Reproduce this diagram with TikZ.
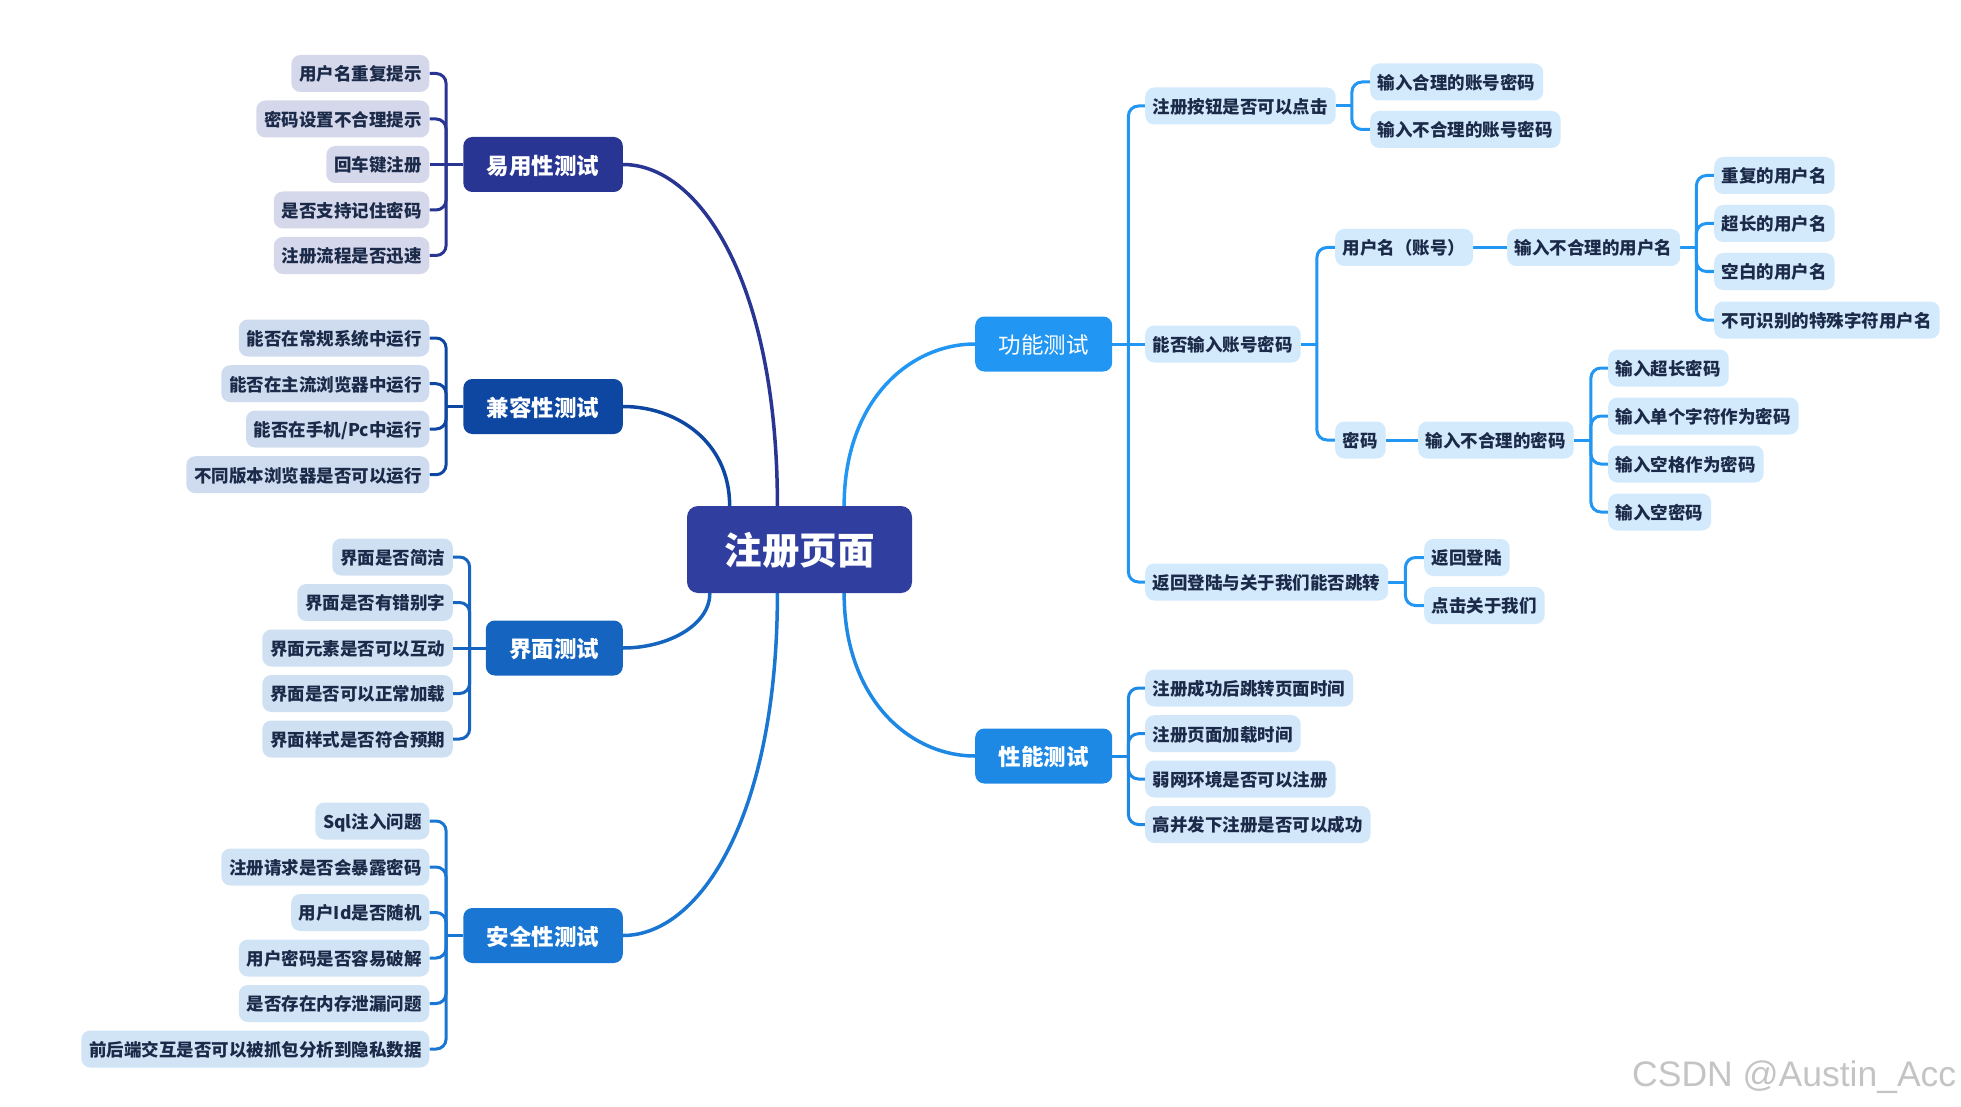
\documentclass[tikz,border=0pt]{standalone}
\usepackage{fontspec}
\setmainfont{Noto Sans CJK SC}
\newfontfamily\wmfont{Liberation Sans}
\usetikzlibrary{calc,backgrounds}
\definecolor{rootc}{HTML}{303F9F}
\definecolor{cA}{HTML}{283593}
\definecolor{cB}{HTML}{0D47A1}
\definecolor{cC}{HTML}{1565C0}
\definecolor{cD}{HTML}{1976D2}
\definecolor{cF}{HTML}{2196F3}
\definecolor{cP}{HTML}{1E88E5}
\definecolor{lA}{HTML}{D5D7EB}
\definecolor{lB}{HTML}{CFDBEE}
\definecolor{lC}{HTML}{D0E0F3}
\definecolor{lD}{HTML}{D1E4F6}
\definecolor{lF}{HTML}{D3EAFC}
\definecolor{lP}{HTML}{D2E7FA}
\definecolor{leaftext}{HTML}{1B2A48}
\definecolor{wmgray}{HTML}{C4C4C4}
\tikzset{
  basebox/.style={rounded corners=9pt, align=center, inner ysep=0pt},
  leafbox/.style={basebox, font=\fontsize{17.5}{20}\selectfont\bfseries, text=leaftext, minimum height=37pt, inner xsep=7.75pt, text height=15.5pt, text depth=0.7pt},
  leafA/.style={leafbox, fill=lA},
  leafB/.style={leafbox, fill=lB},
  leafC/.style={leafbox, fill=lC},
  leafD/.style={leafbox, fill=lD},
  leafF/.style={leafbox, fill=lF},
  leafP/.style={leafbox, fill=lP},
  mainbox/.style={basebox, font=\fontsize{22.5}{26}\selectfont\bfseries, text=white, minimum height=55pt, inner xsep=23.5pt, text height=20pt, text depth=0.9pt},
  rootbox/.style={basebox, rounded corners=11pt, font=\fontsize{37.5}{40}\selectfont\bfseries, text=white, fill=rootc, minimum height=87pt, inner xsep=37.5pt, text height=32pt, text depth=1.5pt},
  curve/.style={line width=3.5pt},
  brk/.style={line width=3pt, rounded corners=10pt},
}
\begin{document}
\begin{tikzpicture}[x=1pt,y=-1pt]
\useasboundingbox (0,0) rectangle (1961,1107);
% root
\node[rootbox] (root) at (799.5,549.5) {注册页面};
% main topics
\node[mainbox, fill=cA, anchor=east] (A) at (623,164.5) {易用性测试};
\node[mainbox, fill=cB, anchor=east] (B) at (623,406.5) {兼容性测试};
\node[mainbox, fill=cC, anchor=east] (C) at (623,648) {界面测试};
\node[mainbox, fill=cD, anchor=east] (D) at (623,935.5) {安全性测试};
\node[mainbox, fill=cF, anchor=west, font=\fontsize{22.5}{26}\selectfont] (F) at (975,344) {功能测试};
\node[mainbox, fill=cP, anchor=west] (P) at (975,756) {性能测试};
% A leaves
\node[leafA, anchor=east] (A1) at (429.5,73.5) {用户名重复提示};
\node[leafA, anchor=east] (A2) at (429.5,119) {密码设置不合理提示};
\node[leafA, anchor=east] (A3) at (429.5,164.5) {回车键注册};
\node[leafA, anchor=east] (A4) at (429.5,210) {是否支持记住密码};
\node[leafA, anchor=east] (A5) at (429.5,255.5) {注册流程是否迅速};
% B leaves
\node[leafB, anchor=east] (B1) at (429.5,338) {能否在常规系统中运行};
\node[leafB, anchor=east] (B2) at (429.5,383.7) {能否在主流浏览器中运行};
\node[leafB, anchor=east] (B3) at (429.5,429) {能否在手机/Pc中运行};
\node[leafB, anchor=east] (B4) at (429.5,474.7) {不同版本浏览器是否可以运行};
% C leaves
\node[leafC, anchor=east] (C1) at (453,557) {界面是否简洁};
\node[leafC, anchor=east] (C2) at (453,602.5) {界面是否有错别字};
\node[leafC, anchor=east] (C3) at (453,648) {界面元素是否可以互动};
\node[leafC, anchor=east] (C4) at (453,693.5) {界面是否可以正常加载};
\node[leafC, anchor=east] (C5) at (453,739) {界面样式是否符合预期};
% D leaves
\node[leafD, anchor=east] (D1) at (429.5,821) {Sql注入问题};
\node[leafD, anchor=east] (D2) at (429.5,867) {注册请求是否会暴露密码};
\node[leafD, anchor=east] (D3) at (429.5,912.5) {用户Id是否随机};
\node[leafD, anchor=east] (D4) at (429.5,958) {用户密码是否容易破解};
\node[leafD, anchor=east] (D5) at (429.5,1003.5) {是否存在内存泄漏问题};
\node[leafD, anchor=east] (D6) at (429.5,1049) {前后端交互是否可以被抓包分析到隐私数据};
% F subtree
\node[leafF, anchor=west] (F1) at (1145,106) {注册按钮是否可以点击};
\node[leafF, anchor=west] (F2) at (1145,344) {能否输入账号密码};
\node[leafF, anchor=west] (F3) at (1145,582) {返回登陆与关于我们能否跳转};
\node[leafF, anchor=west] (F11) at (1370,82) {输入合理的账号密码};
\node[leafF, anchor=west] (F12) at (1370,129.5) {输入不合理的账号密码};
\node[leafF, anchor=west] (F21) at (1335,247.5) {用户名（账号）};
\node[leafF, anchor=west] (F22) at (1335,440) {密码};
\node[leafF, anchor=west] (F211) at (1507,247.5) {输入不合理的用户名};
\node[leafF, anchor=west] (U1) at (1714,175.5) {重复的用户名};
\node[leafF, anchor=west] (U2) at (1714,223.5) {超长的用户名};
\node[leafF, anchor=west] (U3) at (1714,271.5) {空白的用户名};
\node[leafF, anchor=west] (U4) at (1714,320) {不可识别的特殊字符用户名};
\node[leafF, anchor=west] (F221) at (1418,440) {输入不合理的密码};
\node[leafF, anchor=west] (W1) at (1608,368) {输入超长密码};
\node[leafF, anchor=west] (W2) at (1608,416) {输入单个字符作为密码};
\node[leafF, anchor=west] (W3) at (1608,464) {输入空格作为密码};
\node[leafF, anchor=west] (W4) at (1608,512) {输入空密码};
\node[leafF, anchor=west] (F31) at (1424,557.5) {返回登陆};
\node[leafF, anchor=west] (F32) at (1424,605.5) {点击关于我们};
% P leaves
\node[leafP, anchor=west] (P1) at (1145,688) {注册成功后跳转页面时间};
\node[leafP, anchor=west] (P2) at (1145,733.7) {注册页面加载时间};
\node[leafP, anchor=west] (P3) at (1145,779) {弱网环境是否可以注册};
\node[leafP, anchor=west] (P4) at (1145,824.5) {高并发下注册是否可以成功};
% watermark
\node[anchor=base west, inner sep=0pt, font=\wmfont\fontsize{35.5}{40}\selectfont, text=wmgray] (wm) at (1632,1086) {CSDN @Austin\_Acc};

\begin{scope}[on background layer]
% root anchor points
\coordinate (rA) at ($(root.north west)!0.402!(root.north east)$);
\coordinate (rB) at ($(root.north west)!0.19!(root.north east)$);
\coordinate (rF) at ($(root.north west)!0.698!(root.north east)$);
\coordinate (rC) at ($(root.south west)!0.102!(root.south east)$);
\coordinate (rD) at ($(root.south west)!0.402!(root.south east)$);
\coordinate (rP) at ($(root.south west)!0.698!(root.south east)$);
% curves
\draw[curve, cA] (A.east) .. controls ($(A.east)!0.5!(rA|-A.east)$) and ($(rA)!0.65!(rA|-A.east)$) .. (rA);
\draw[curve, cB] (B.east) .. controls ($(B.east)!0.5!(rB|-B.east)$) and ($(rB)!0.65!(rB|-B.east)$) .. (rB);
\draw[curve, cC] (C.east) .. controls ($(C.east)!0.5!(rC|-C.east)$) and ($(rC)!0.6!(rC|-C.east)$) .. (rC);
\draw[curve, cD] (D.east) .. controls ($(D.east)!0.5!(rD|-D.east)$) and ($(rD)!0.65!(rD|-D.east)$) .. (rD);
\draw[curve, cF] (F.west) .. controls ($(F.west)!0.5!(rF|-F.west)$) and ($(rF)!0.65!(rF|-F.west)$) .. (rF);
\draw[curve, cP] (P.west) .. controls ($(P.west)!0.5!(rP|-P.west)$) and ($(rP)!0.65!(rP|-P.west)$) .. (rP);
% bracket coordinates
\coordinate (bA) at ($(A.west)+(-17,0)$);
\coordinate (bB) at ($(B.west)+(-17,0)$);
\coordinate (bC) at ($(C.west)+(-16,0)$);
\coordinate (bD) at ($(D.west)+(-17,0)$);
\coordinate (bF) at ($(F.east)+(16,0)$);
\coordinate (bP) at ($(P.east)+(16,0)$);
\coordinate (bF1) at ($(F1.east)+(16,0)$);
\coordinate (bF2) at ($(F2.east)+(16,0)$);
\coordinate (bF3) at ($(F3.east)+(17,0)$);
\coordinate (bU) at ($(F211.east)+(16,0)$);
\coordinate (bW) at ($(F221.east)+(17,0)$);
% A
\draw[brk, cA] (A.west) -- (bA);
\draw[brk, cA] (bA) |- (A1.east);
\draw[brk, cA] (bA) |- (A2.east);
\draw[brk, cA] (bA) -- (A3.east);
\draw[brk, cA] (bA) |- (A4.east);
\draw[brk, cA] (bA) |- (A5.east);
% B
\draw[brk, cB] (B.west) -- (bB);
\draw[brk, cB] (bB) |- (B1.east);
\draw[brk, cB] (bB) |- (B2.east);
\draw[brk, cB] (bB) |- (B3.east);
\draw[brk, cB] (bB) |- (B4.east);
% C
\draw[brk, cC] (C.west) -- (bC);
\draw[brk, cC] (bC) |- (C1.east);
\draw[brk, cC] (bC) |- (C2.east);
\draw[brk, cC] (bC) -- (C3.east);
\draw[brk, cC] (bC) |- (C4.east);
\draw[brk, cC] (bC) |- (C5.east);
% D
\draw[brk, cD] (D.west) -- (bD);
\draw[brk, cD] (bD) |- (D1.east);
\draw[brk, cD] (bD) |- (D2.east);
\draw[brk, cD] (bD) |- (D3.east);
\draw[brk, cD] (bD) |- (D4.east);
\draw[brk, cD] (bD) |- (D5.east);
\draw[brk, cD] (bD) |- (D6.east);
% F
\draw[brk, cF] (F.east) -- (bF);
\draw[brk, cF] (bF) |- (F1.west);
\draw[brk, cF] (bF) -- (F2.west);
\draw[brk, cF] (bF) |- (F3.west);
\draw[brk, cF] (F1.east) -- (bF1);
\draw[brk, cF] (bF1) |- (F11.west);
\draw[brk, cF] (bF1) |- (F12.west);
\draw[brk, cF] (F2.east) -- (bF2);
\draw[brk, cF] (bF2) |- (F21.west);
\draw[brk, cF] (bF2) |- (F22.west);
\draw[brk, cF] (F21.east) -- (F211.west);
\draw[brk, cF] (F211.east) -- (bU);
\draw[brk, cF] (bU) |- (U1.west);
\draw[brk, cF] (bU) |- (U2.west);
\draw[brk, cF] (bU) |- (U3.west);
\draw[brk, cF] (bU) |- (U4.west);
\draw[brk, cF] (F22.east) -- (F221.west);
\draw[brk, cF] (F221.east) -- (bW);
\draw[brk, cF] (bW) |- (W1.west);
\draw[brk, cF] (bW) |- (W2.west);
\draw[brk, cF] (bW) |- (W3.west);
\draw[brk, cF] (bW) |- (W4.west);
\draw[brk, cF] (F3.east) -- (bF3);
\draw[brk, cF] (bF3) |- (F31.west);
\draw[brk, cF] (bF3) |- (F32.west);
% P
\draw[brk, cP] (P.east) -- (bP);
\draw[brk, cP] (bP) |- (P1.west);
\draw[brk, cP] (bP) |- (P2.west);
\draw[brk, cP] (bP) |- (P3.west);
\draw[brk, cP] (bP) |- (P4.west);
\end{scope}
\end{tikzpicture}
\end{document}
